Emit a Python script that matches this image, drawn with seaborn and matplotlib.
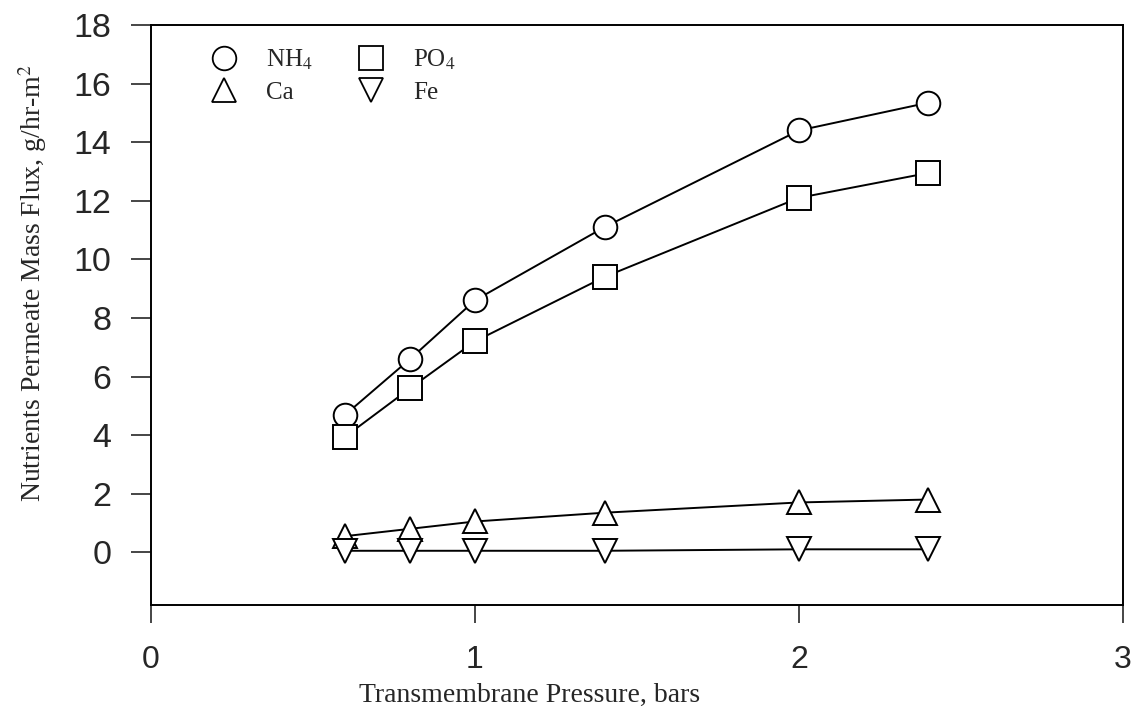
import pandas as pd
import matplotlib
matplotlib.use("Agg")
import matplotlib.pyplot as plt
from matplotlib.lines import Line2D
import seaborn as sns

# data
pressure = [0.6, 0.8, 1.0, 1.4, 2.0, 2.4]
nh4 = [4.7, 6.6, 8.6, 11.1, 14.4, 15.35]
po4 = [3.95, 5.6, 7.2, 9.4, 12.1, 12.95]
ca = [0.55, 0.8, 1.05, 1.35, 1.7, 1.8]
fe = [0.05, 0.05, 0.05, 0.05, 0.1, 0.1]

nutrients = ["NH$_4$", "PO$_4$", "Ca", "Fe"]
marker_list = ["o", "s", "^", "v"]
xticks = [0, 1, 2, 3]
yticks = list(range(0, 19, 2))

df = pd.DataFrame({"pressure": pressure * 4,
                   "flux": nh4 + po4 + ca + fe,
                   "nutrient": [n for n in nutrients for _ in pressure]})

sns.set_style("white")
plt.rcParams["font.family"] = ["Liberation Sans", "DejaVu Sans"]
plt.rcParams["mathtext.fontset"] = "stix"

fig = plt.figure(figsize=(11.38, 7.19), dpi=100)
ax = fig.add_axes([0.1327, 0.1586, 0.854, 0.8066])

sns.lineplot(data=df, x="pressure", y="flux", hue="nutrient", style="nutrient",
             palette=["black"] * 4, markers=marker_list, dashes=False,
             markersize=17, markerfacecolor="white", markeredgecolor="black",
             markeredgewidth=1.4, linewidth=1.4, legend=False, ax=ax)

ax.set_xlim(0, 3)
ax.set_ylim(-1.8, 18)
ax.set_xticks(xticks)
ax.set_yticks(yticks)
ax.tick_params(axis="x", direction="out", length=13, width=1.2, pad=16,
               labelsize=23, bottom=True)
ax.tick_params(axis="y", direction="out", length=14.5, width=1.2, pad=14,
               labelsize=24.5, left=True)
for s in ax.spines.values():
    s.set_color("black")
    s.set_linewidth(1.4)

ax.set_xlabel("Transmembrane Pressure, bars", family="Liberation Serif",
              fontsize=20)
ax.set_ylabel("Nutrients Permeate Mass Flux, g/hr-m$^2$", family="Liberation Serif",
              fontsize=20)
ax.xaxis.set_label_coords(0.389, -0.135)
ax.yaxis.set_label_coords(-0.105, 0.555)

handles = [Line2D([], [], linestyle="None", marker=m, markersize=17,
                  markerfacecolor="white", markeredgecolor="black",
                  markeredgewidth=1.3) for m in marker_list]
order = [0, 2, 1, 3]
ax.legend([handles[i] for i in order], [nutrients[i] for i in order],
          ncol=2, loc="upper left", bbox_to_anchor=(0.039, 0.999),
          frameon=False, prop={"family": "Liberation Serif", "size": 18},
          handletextpad=1.2, columnspacing=1.8, labelspacing=0.35,
          handlelength=1.0)

fig.savefig("out.png", dpi=100)
